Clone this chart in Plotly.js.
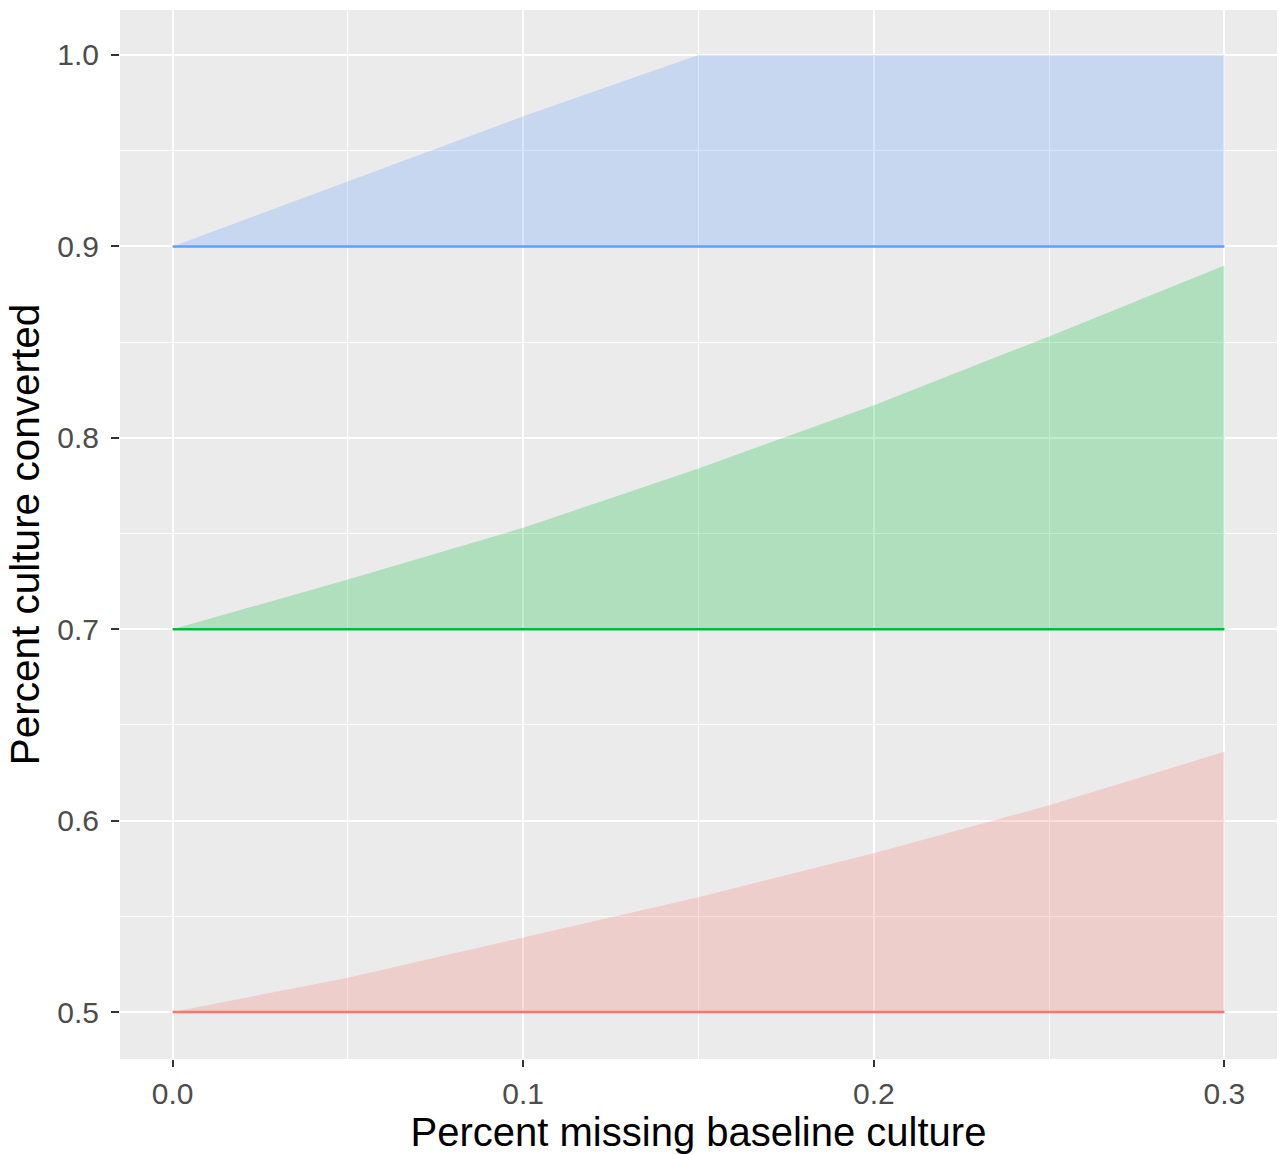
<!DOCTYPE html>
<html>
<head>
<meta charset="utf-8">
<script src="https://cdn.plot.ly/plotly-3.0.1.min.js"></script>
<style>
html,body{margin:0;padding:0;background:#fff;}
#chart{width:1279px;height:1154px;}
</style>
</head>
<body>
<div id="chart"></div>
<script>
// Data
const pctMissing = [0.0, 0.05, 0.10, 0.15, 0.20, 0.25, 0.30];

const redLower   = [0.50, 0.50, 0.50, 0.50, 0.50, 0.50, 0.50];
const redUpper   = [0.50, 0.518, 0.539, 0.560, 0.583, 0.608, 0.636];

const greenLower = [0.70, 0.70, 0.70, 0.70, 0.70, 0.70, 0.70];
const greenUpper = [0.70, 0.726, 0.753, 0.784, 0.817, 0.853, 0.890];

const blueLower  = [0.90, 0.90, 0.90, 0.90, 0.90, 0.90, 0.90];
const blueUpper  = [0.90, 0.934, 0.968, 1.00, 1.00, 1.00, 1.00];

const xTickVals = [0.0, 0.1, 0.2, 0.3];
const xTickText = ["0.0", "0.1", "0.2", "0.3"];
const yTickVals = [0.5, 0.6, 0.7, 0.8, 0.9, 1.0];
const yTickText = ["0.5", "0.6", "0.7", "0.8", "0.9", "1.0"];

const groups = [
  {lower: redLower,   upper: redUpper,   line: "#F8766D", fill: "rgba(248,118,109,0.25)"},
  {lower: greenLower, upper: greenUpper, line: "#00BA38", fill: "rgba(0,186,56,0.25)"},
  {lower: blueLower,  upper: blueUpper,  line: "#619CFF", fill: "rgba(97,156,255,0.25)"}
];

const traces = [];
groups.forEach(g => {
  traces.push({x: pctMissing, y: g.lower, type: "scatter", mode: "lines",
    line: {width: 0, color: g.line}, hoverinfo: "skip", showlegend: false});
  traces.push({x: pctMissing, y: g.upper, type: "scatter", mode: "lines",
    fill: "tonexty", fillcolor: g.fill,
    line: {width: 0, color: g.line}, hoverinfo: "skip", showlegend: false});
});
groups.forEach(g => {
  traces.push({x: pctMissing, y: g.lower, type: "scatter", mode: "lines",
    line: {width: 2.5, color: g.line}, hoverinfo: "skip", showlegend: false});
});

const layout = {
  width: 1279, height: 1154,
  margin: {l: 120, r: 2, t: 10, b: 95, pad: 0},
  paper_bgcolor: "#FFFFFF",
  plot_bgcolor: "#EBEBEB",
  font: {family: "Liberation Sans, Arial, sans-serif", color: "#4D4D4D"},
  showlegend: false,
  xaxis: {
    range: [-0.015, 0.315],
    tickmode: "array", tickvals: xTickVals, ticktext: xTickText,
    ticks: "outside", ticklen: 7, tickwidth: 2, tickcolor: "#333333",
    tickfont: {size: 30, color: "#4D4D4D"},
    ticklabelstandoff: 1,
    showgrid: true, gridcolor: "#FFFFFF", gridwidth: 2,
    minor: {dtick: 0.05, tick0: 0, showgrid: true, gridcolor: "#FFFFFF", gridwidth: 1, ticks: ""},
    zeroline: false, showline: false,
    title: {text: "Percent missing baseline culture", font: {size: 40, color: "#000000"}, standoff: 7}
  },
  yaxis: {
    range: [0.4755, 1.0235],
    tickmode: "array", tickvals: yTickVals, ticktext: yTickText,
    ticks: "outside", ticklen: 8, tickwidth: 2, tickcolor: "#333333",
    tickfont: {size: 30, color: "#4D4D4D"},
    ticklabelstandoff: 6,
    showgrid: true, gridcolor: "#FFFFFF", gridwidth: 2,
    minor: {dtick: 0.05, tick0: 0.5, showgrid: true, gridcolor: "#FFFFFF", gridwidth: 1, ticks: ""},
    zeroline: false, showline: false,
    title: {text: "Percent culture converted", font: {size: 40.5, color: "#000000"}, standoff: 5}
  }
};

Plotly.newPlot("chart", traces, layout, {staticPlot: true, displayModeBar: false});
</script>
</body>
</html>
